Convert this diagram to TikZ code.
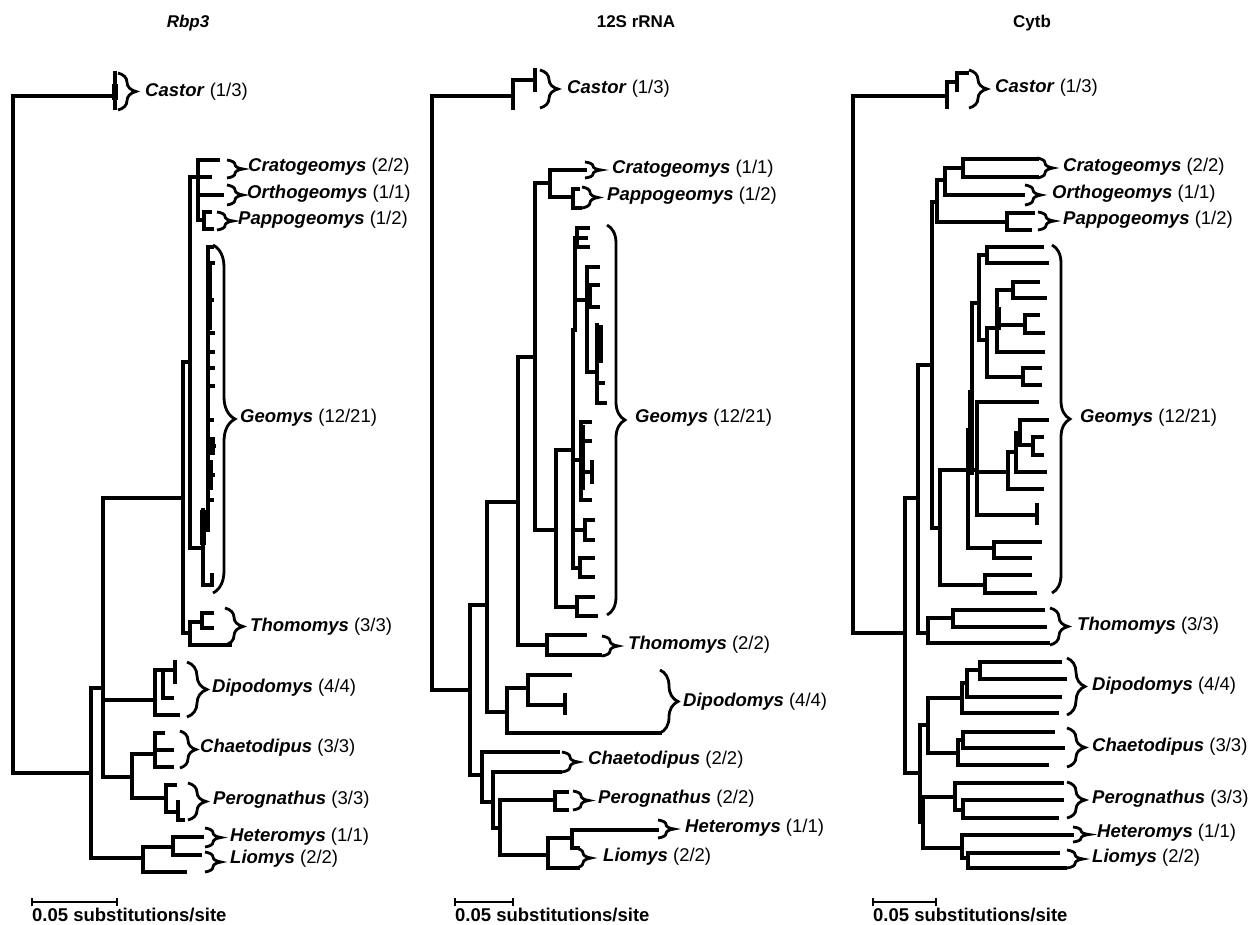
\documentclass[tikz,border=0pt]{standalone}
\usepackage{fontspec}
\setmainfont{Liberation Sans}
\usetikzlibrary{decorations.pathreplacing}
\tikzset{
  br/.style={line width=3.3pt, line cap=rect},
  thk/.style={line width=5.5pt},
  brc/.style={decorate, decoration={brace, amplitude=#1}, line width=2.8pt},
  brc/.default=16,
  lab/.style={anchor=west, inner sep=0pt, font=\fontsize{18.5}{20}\selectfont},
  ttl/.style={anchor=base, inner sep=0pt, font=\fontsize{17}{19}\selectfont\bfseries},
  scl/.style={anchor=base west, inner sep=0pt, font=\fontsize{18.5}{20}\selectfont\bfseries},
}
% vertical bar of a clade plus its arms (y/x of each child)
\newcommand{\clade}[4]{%
  \draw[br] (#1,#2) -- (#1,#3);
  \foreach \yy/\xx in {#4} {\draw[br] (#1,\yy) -- (\xx,\yy);}}
\newcommand{\vln}[3]{\draw[br] (#1,#2) -- (#1,#3);}
% brace + label: name, x, ytop, ybot, amplitude, text x, text y, genus, count
\newcommand{\grp}[9]{%
  \draw[brc=#5] (#2,#3) -- (#2,#4);
  \node[lab] (#1) at (#6,#7) {\textbf{\textit{#8}} (#9)};}
\newcommand{\scalebar}[3]{%
  \draw[line width=2.6pt] (#1,898) -- (#1,906) (#1,902) -- (#2,902) (#2,898) -- (#2,906);
  \node[scl] (#3) at (#1,921) {0.05 substitutions/site};}

\begin{document}
\begin{tikzpicture}[x=1pt,y=-1pt]
  \useasboundingbox (0,0) rectangle (1253,924);
  \fill[white] (0,0) rectangle (1253,924);

  \node[ttl] (t1) at (188,27) {\textit{Rbp3}};
  \node[ttl] (t2) at (636,27) {12S rRNA};
  \node[ttl] (t3) at (1032,27) {Cytb};

  %% Rbp3
  \clade{13}{96}{773}{96/115, 773/91}
  \vln{115}{73}{108}
  \draw[thk] (115,84) -- (115,100);
  \clade{91}{688}{858}{688/103, 858/143}
  \clade{103}{498}{777}{498/183, 700/155, 777/132}
  \clade{183}{362}{633}{362/190, 633/190}
  \clade{190}{177}{548}{177/198, 548/203}
  \clade{198}{160}{220}{160/218, 177/210, 195/222, 220/204}
  \clade{204}{212}{229}{212/210, 229/212}
  \clade{208}{247}{530}{247/212, 263/213, 300/212, 333/213, 352/213, 368/213, 386/213, 420/212, 446/214, 475/213, 500/212}
  \draw[thk] (209,263) -- (209,330) (212,437) -- (212,455) (210,460) -- (210,490);
  \clade{203}{510}{585}{530/208, 585/212}
  \draw[thk] (203,510) -- (203,545);
  \vln{212}{575}{585}
  \clade{190}{622}{645}{622/202, 645/230}
  \clade{202}{613}{628}{613/212, 628/212}
  \clade{155}{670}{715}{670/163, 715/178}
  \clade{163}{670}{698}{670/175, 698/172}
  \vln{175}{662}{682}
  \clade{132}{754}{798}{754/155, 798/166}
  \clade{155}{733}{767}{733/163, 750/172, 767/172}
  \clade{166}{785}{812}{785/175, 812/178}
  \clade{178}{802}{820}{820/183}
  \clade{143}{847}{872}{847/173, 872/185}
  \clade{173}{837}{855}{837/202, 855/200}

  \grp{cas1}{118}{73}{110}{18}{145}{92}{Castor}{1/3}
  \grp{cra1}{227}{160}{178}{16}{248}{167}{Cratogeomys}{2/2}
  \grp{ort1}{227}{185}{205}{16}{247}{194}{Orthogeomys}{1/1}
  \grp{pap1}{217}{212}{230}{16}{238}{220}{Pappogeomys}{1/2}
  \grp{geo1}{213}{245}{593}{22}{240}{418}{Geomys}{12/21}
  \grp{tho1}{225}{608}{645}{18}{250}{627}{Thomomys}{3/3}
  \grp{dip1}{187}{662}{717}{20}{212}{688}{Dipodomys}{4/4}
  \grp{cha1}{180}{731}{768}{16}{200}{748}{Chaetodipus}{3/3}
  \grp{per1}{188}{783}{820}{18}{213}{800}{Perognathus}{3/3}
  \grp{het1}{205}{828}{847}{16}{230}{837}{Heteromys}{1/1}
  \grp{lio1}{205}{852}{872}{16}{230}{859}{Liomys}{2/2}
  \scalebar{32}{117}{sc1}

  %% 12S rRNA
  \clade{432}{96}{690}{96/513, 690/470}
  \clade{513}{80}{108}{80/535}
  \vln{535}{70}{90}
  \clade{470}{605}{775}{605/487, 775/482}
  \clade{487}{502}{712}{502/518, 712/507}
  \clade{518}{357}{645}{357/535, 645/547}
  \clade{535}{183}{530}{183/550, 530/556}
  \clade{550}{170}{197}{170/585, 197/573}
  \clade{573}{189}{208}{189/578, 208/580}
  \clade{556}{450}{607}{450/573, 607/577}
  \clade{577}{597}{616}{597/593, 616/596}
  \clade{573}{330}{568}{330/575, 460/581, 530/585, 568/580}
  \clade{580}{558}{577}{558/593, 577/593}
  \clade{585}{520}{540}{520/593, 540/593}
  \clade{581}{422}{500}{422/590, 441/590, 472/592, 500/590}
  \draw[thk] (582,425) -- (582,490);
  \vln{592}{462}{482}
  \clade{575}{238}{330}{238/577, 300/587}
  \clade{577}{228}{247}{228/588, 238/586, 247/588}
  \clade{587}{267}{372}{267/598, 296/590, 372/597}
  \clade{590}{285}{307}{285/598, 307/598}
  \clade{597}{325}{403}{383/603, 403/605}
  \draw[thk] (600,325) -- (600,363);
  \clade{547}{635}{655}{635/585, 655/600}
  \clade{507}{688}{733}{688/528, 733/660}
  \clade{528}{675}{705}{675/570, 705/565}
  \vln{565}{695}{713}
  \clade{482}{752}{802}{752/558, 802/493}
  \clade{493}{772}{828}{772/560, 828/500}
  \clade{500}{800}{855}{800/555, 855/548}
  \clade{555}{792}{810}{792/567, 810/567}
  \clade{548}{838}{868}{838/572, 868/578}
  \clade{572}{830}{848}{830/657, 848/578}

  \grp{cas2}{540}{70}{108}{18}{567}{89}{Castor}{1/3}
  \grp{cra2}{585}{162}{178}{16}{612}{169}{Cratogeomys}{1/1}
  \grp{pap2}{582}{187}{208}{16}{607}{196}{Pappogeomys}{1/2}
  \grp{geo2}{607}{225}{615}{18}{635}{418}{Geomys}{12/21}
  \grp{tho2}{602}{636}{656}{16}{628}{645}{Thomomys}{2/2}
  \grp{dip2}{660}{670}{733}{18}{683}{702}{Dipodomys}{4/4}
  \grp{cha2}{562}{752}{772}{16}{588}{760}{Chaetodipus}{2/2}
  \grp{per2}{573}{791}{810}{16}{598}{799}{Perognathus}{2/2}
  \grp{het2}{658}{820}{838}{16}{685}{828}{Heteromys}{1/1}
  \grp{lio2}{575}{848}{868}{16}{603}{857}{Liomys}{2/2}
  \scalebar{455}{513}{sc2}

  %% Cytb
  \clade{853}{96}{633}{96/947, 633/905}
  \clade{947}{82}{107}{82/957}
  \clade{957}{73}{90}{73/967}
  \clade{905}{498}{773}{498/918, 773/920}
  \clade{918}{365}{633}{365/932, 633/928}
  \clade{932}{202}{528}{202/937, 528/940}
  \clade{937}{180}{222}{180/945, 222/1007}
  \clade{945}{168}{195}{168/963, 195/1023}
  \clade{963}{159}{177}{159/1037, 177/1037}
  \clade{1007}{213}{230}{213/1033, 230/1030}
  \clade{940}{470}{585}{470/968, 585/985}
  \clade{985}{575}{593}{575/1030, 593/1035}
  \clade{968}{430}{548}{430/972, 548/994}
  \clade{994}{542}{558}{542/1040, 558/1030}
  \clade{972}{303}{470}{303/979, 470/977}
  \draw[thk] (971,390) -- (971,475);
  \clade{977}{402}{515}{402/1037, 472/1008, 515/1037}
  \vln{1037}{505}{523}
  \clade{1008}{452}{489}{452/1016, 489/1042}
  \clade{1016}{433}{472}{433/1020, 472/1045}
  \clade{1020}{420}{445}{420/1047, 445/1033}
  \clade{1033}{437}{455}{437/1042, 455/1042}
  \clade{979}{255}{340}{255/987, 340/987}
  \clade{987}{247}{263}{247/1042, 263/1047}
  \clade{987}{328}{377}{328/997, 377/1023}
  \clade{997}{290}{352}{290/1013, 325/1025, 352/1043}
  \draw[thk] (998,307) -- (998,330);
  \clade{1013}{282}{298}{282/1038, 298/1045}
  \clade{1025}{315}{333}{315/1038, 333/1043}
  \clade{1023}{368}{385}{368/1040, 385/1040}
  \clade{928}{618}{643}{618/953, 643/1048}
  \clade{953}{610}{627}{610/1043, 627/1045}
  \clade{920}{725}{822}{725/928, 822/923}
  \clade{928}{698}{753}{698/962, 753/958}
  \clade{962}{683}{713}{683/967, 713/1057}
  \clade{967}{670}{697}{670/980, 697/1060}
  \clade{980}{662}{679}{662/1060, 679/1065}
  \clade{958}{740}{765}{740/963, 765/1047}
  \clade{963}{732}{748}{732/1053, 748/1063}
  \clade{923}{797}{848}{797/955, 848/962}
  \clade{955}{783}{810}{783/1062, 810/963}
  \clade{963}{800}{818}{800/1062, 818/1057}
  \clade{962}{835}{858}{835/1072, 858/968}
  \clade{968}{853}{868}{853/1058, 868/1065}

  \grp{cas3}{969}{70}{108}{18}{995}{88}{Castor}{1/3}
  \grp{cra3}{1037}{158}{178}{16}{1063}{167}{Cratogeomys}{2/2}
  \grp{ort3}{1025}{185}{205}{16}{1052}{194}{Orthogeomys}{1/1}
  \grp{pap3}{1038}{212}{230}{16}{1063}{220}{Pappogeomys}{1/2}
  \grp{geo3}{1052}{245}{593}{18}{1080}{418}{Geomys}{12/21}
  \grp{tho3}{1050}{608}{645}{18}{1077}{626}{Thomomys}{3/3}
  \grp{dip3}{1067}{658}{715}{18}{1092}{686}{Dipodomys}{4/4}
  \grp{cha3}{1067}{728}{767}{18}{1092}{747}{Chaetodipus}{3/3}
  \grp{per3}{1067}{782}{818}{18}{1092}{799}{Perognathus}{3/3}
  \grp{het3}{1073}{827}{842}{16}{1097}{833}{Heteromys}{1/1}
  \grp{lio3}{1067}{850}{868}{16}{1092}{858}{Liomys}{2/2}
  \scalebar{873}{936}{sc3}
\end{tikzpicture}
\end{document}
